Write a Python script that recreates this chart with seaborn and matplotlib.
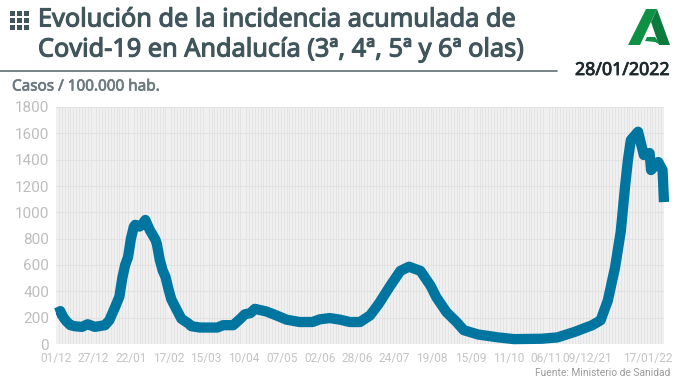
import numpy as np
import pandas as pd
import seaborn as sns
import matplotlib.pyplot as plt
import matplotlib.patheffects as pe
from matplotlib.patches import Polygon, Rectangle

# dias desde el 01/12/2020 y casos
dias = [0, 2, 3, 5, 7, 10, 13, 18, 22, 27, 34, 37, 41, 44, 46, 48, 50, 52, 54, 55, 58, 60, 62,
        65, 67, 69, 70, 72, 74, 76, 78, 80, 84, 87, 92, 94, 100, 112, 116, 123, 128, 131, 135, 138,
        146, 153, 160, 169, 178, 183, 190, 197, 204, 211, 218, 224, 232, 239, 245,
        253, 260, 264, 271, 278, 283, 293, 307, 318, 337, 348, 360, 372, 378, 383,
        388, 392, 395, 397, 399, 404, 408, 412, 413, 418, 421, 422]
casos = [235, 243, 250, 205, 175, 143, 135, 130, 150, 130, 143, 180, 280, 360, 500,
         600, 660, 800, 890, 905, 892, 910, 942, 867, 830, 792, 760, 640, 560, 510, 420, 340,
         255, 192, 155, 135, 125,
         125, 143, 143, 192, 225, 235, 267, 247, 217, 185, 167, 167, 187, 197, 185,
         167, 167, 217, 305, 442, 555, 587, 555, 442, 355, 242, 167, 105, 72, 50, 37,
         40, 50, 92, 142, 180, 330, 580, 855, 1200, 1400, 1549, 1612, 1435, 1450, 1321, 1382,
         1321, 1078]

tick_dias = [0, 26, 52, 78, 104, 130, 157, 183, 209, 235, 261, 288, 314, 340, 369, 411]
tick_labels = ['01/12', '27/12', '22/01', '17/02', '15/03', '10/04', '07/05', '02/06',
               '28/06', '24/07', '19/08', '15/09', '11/10', '06/11', '09/12/21', '17/01/22']
y_ticks = [0, 200, 400, 600, 800, 1000, 1200, 1400, 1600, 1800]

W, H = 680, 382
AZUL = '#00759f'
GRIS_TXT = '#c4c4c4'
TITULO = '#41555c'

sns.set_theme(style='white')
plt.rcParams['font.family'] = ['Noto Sans', 'DejaVu Sans']

fig = plt.figure(figsize=(6.8, 3.82), dpi=100)
ax = fig.add_axes([56 / W, 1 - 344 / H, 608 / W, 237 / H])
ax.set_facecolor('#f1f0f0')

df = pd.DataFrame({'dia': dias, 'casos': casos})
sns.lineplot(data=df, x='dia', y='casos', ax=ax, color=AZUL, linewidth=7.4,
             estimator=None, sort=False, solid_joinstyle='round', solid_capstyle='butt',
             clip_on=False, zorder=5)

ax.set_xlim(0, 422)
ax.set_ylim(0, 1800)
ax.set_xticks(tick_dias)
ax.set_xticklabels(tick_labels, family='Roboto', fontsize=8.6, color=GRIS_TXT)
ax.set_yticks(y_ticks)
ax.set_yticklabels(y_ticks, family='Roboto', fontsize=11, color='#bdbdbd')
ax.tick_params(axis='x', length=0, pad=6)
ax.tick_params(axis='y', length=0, pad=5)
ax.set_xlabel('')
ax.set_ylabel('')

# rejilla: una linea fina cada dos dias
ax.set_xticks(np.arange(0, 423, 2), minor=True)
ax.grid(which='minor', axis='x', color='#e0e0e0', linewidth=0.5)
ax.grid(which='major', axis='y', color='#e2e2e2', linewidth=0.8)
ax.tick_params(which='minor', length=0)
ax.set_axisbelow(True)
sns.despine(ax=ax, left=True, bottom=True)

# capa en pixeles para cabecera y logo
top = fig.add_axes([0, 0, 1, 1], zorder=10)
top.set_xlim(0, W)
top.set_ylim(H, 0)
top.axis('off')


def grueso(color, w):
    return [pe.withStroke(linewidth=w, foreground=color)]


for i in range(3):
    for j in range(3):
        top.add_patch(Rectangle((10 + i * 7, 11 + j * 7), 5.4, 5, color=TITULO, lw=0))

top.text(38, 20, 'Evolución de la incidencia acumulada de', fontsize=18.2,
         color=TITULO, va='center', path_effects=grueso(TITULO, 0.8))
top.text(38, 50, 'Covid-19 en Andalucía (3ª, 4ª, 5ª y 6ª olas)', fontsize=18.2,
         color=TITULO, va='center', path_effects=grueso(TITULO, 0.8))
top.plot([0, 557], [71, 71], color='#5f6f74', lw=1.2)
top.text(12, 87, 'Casos / 100.000 hab.', fontsize=11.0, color='#6d7b80', va='center',
         path_effects=grueso('#6d7b80', 0.5))
top.text(575, 70, '28/01/2022', fontsize=12.8, color='#1f2a2e', va='center',
         path_effects=grueso('#1f2a2e', 0.6))
top.text(670, 373, 'Fuente: Ministerio de Sanidad', family='Roboto', fontsize=7.4,
         color='#9a9a9a', ha='right', va='center')

# logo
top.add_patch(Polygon([(646, 9), (657, 9), (640, 45), (628, 45)], color='#0f9145', lw=0))
top.add_patch(Polygon([(657, 9), (670, 45), (659, 45), (651, 22)], color='#0b7a3c', lw=0))
top.add_patch(Polygon([(647, 37), (655, 37), (661, 45), (655, 42), (645, 41)], color='#0f9145', lw=0))

fig.savefig('out.png', dpi=100)
